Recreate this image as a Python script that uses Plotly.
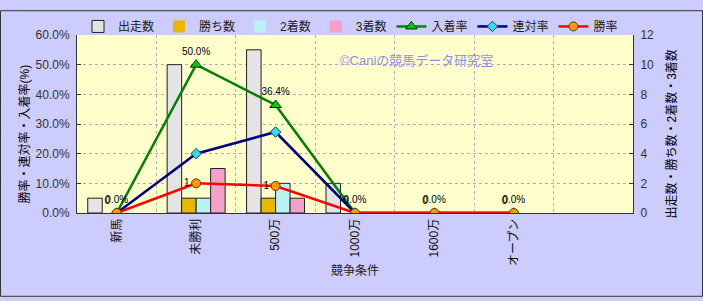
import plotly.graph_objects as go

categories = ["新馬", "未勝利", "500万", "1000万", "1600万", "オープン"]
runs = [1, 10, 11, 2, 0, 0]
wins = [0, 1, 1, 0, 0, 0]
seconds = [0, 1, 2, 0, 0, 0]
thirds = [0, 3, 1, 0, 0, 0]
place_rate = [0.0, 0.5, 0.364, 0.0, 0.0, 0.0]
rentai_rate = [0.0, 0.2, 0.273, 0.0, 0.0, 0.0]
win_rate = [0.0, 0.1, 0.091, 0.0, 0.0, 0.0]
n_slots = 7  # one empty slot at right

xs = list(range(len(categories)))
FONT = "Liberation Sans, Noto Sans CJK JP, sans-serif"
W, H = 703, 301
L, R, T, B = 77, 633, 26, 213
PW, PH = R - L, B - T

def px(x):
    return (x - L) / PW

def py(y):
    return (B - y) / PH

fig = go.Figure()

bar_specs = [
    ("出走数", runs, "#e4e4e4"),
    ("勝ち数", wins, "#e8b800"),
    ("2着数", seconds, "#b8f4f4"),
    ("3着数", thirds, "#f4a0c8"),
]
for name, vals, col in bar_specs:
    fig.add_trace(go.Bar(
        x=xs, y=vals, name=name, yaxis="y",
        marker=dict(color=col, line=dict(color="#202020",
                                         width=[1 if v else 0 for v in vals])),
    ))

fig.add_trace(go.Scatter(
    x=xs, y=place_rate, name="入着率", yaxis="y2", mode="lines+markers+text",
    line=dict(color="#008000", width=2.5),
    marker=dict(symbol="triangle-up", size=10, color="#00cc00", line=dict(color="#003300", width=1)),
    text=[f"{v*100:.1f}%" for v in place_rate], textposition="top center",
    textfont=dict(family=FONT, size=10, color="#000000"),
))
fig.add_trace(go.Scatter(
    x=xs, y=rentai_rate, name="連対率", yaxis="y2", mode="lines+markers",
    line=dict(color="#000080", width=2.5),
    marker=dict(symbol="diamond", size=8, color="#33ddee", line=dict(color="#004444", width=1)),
))
fig.add_trace(go.Scatter(
    x=xs, y=win_rate, name="勝率", yaxis="y2", mode="lines+markers+text",
    line=dict(color="#ff0000", width=2.5),
    marker=dict(symbol="circle", size=9, color="#ff9900", line=dict(color="#663300", width=1)),
    text=[str(w) for w in wins],
    textposition=["top left" if w == 0 else "middle left" for w in wins],
    textfont=dict(family=FONT, size=10, color="#000000"),
))

fig.update_layout(
    width=W, height=H,
    margin=dict(l=L, r=W - R, t=T, b=H - B, pad=0),
    paper_bgcolor="#ccccff",
    plot_bgcolor="#ffffcc",
    font=dict(family=FONT, size=12, color="#333333"),
    barmode="group", bargap=0.27, bargroupgap=0,
    showlegend=True,
    legend=dict(orientation="h", x=px(78), y=py(17), xanchor="left", yanchor="middle",
                bgcolor="rgba(0,0,0,0)", font=dict(family=FONT, size=12, color="#222222"),
                traceorder="normal", itemwidth=30),
    xaxis=dict(
        range=[-0.5, n_slots - 0.5], tickmode="array", tickvals=xs, ticktext=categories,
        tickangle=-90, ticks="", showgrid=False, zeroline=False,
        showline=True, linecolor="#333333", linewidth=1,
        tickfont=dict(family=FONT, size=12, color="#111111"),
        minor=dict(tickvals=[i + 0.5 for i in range(n_slots - 1)], showgrid=True,
                   gridcolor="#b0b0b0", griddash="dot", gridwidth=1, ticks=""),
    ),
    yaxis=dict(
        side="right", range=[0, 12], dtick=2, showgrid=False, zeroline=False,
        showline=True, linecolor="#333333", linewidth=1, ticks="inside", ticklen=4,
        tickcolor="#333333", tickfont=dict(family=FONT, size=12, color="#333333"),
        ticklabelstandoff=4,
    ),
    yaxis2=dict(
        side="left", overlaying="y", range=[0, 0.6], dtick=0.1, tickformat=".1%",
        showgrid=True, gridcolor="#b0b0b0", griddash="dot", gridwidth=1, zeroline=False,
        showline=True, linecolor="#333333", linewidth=1, ticks="inside", ticklen=4,
        tickcolor="#333333", tickfont=dict(family=FONT, size=12, color="#333333"),
        ticklabelstandoff=4,
    ),
)

fig.add_annotation(text="©Caniの競馬データ研究室", xref="paper", yref="paper",
                   x=px(495), y=py(43), showarrow=False,
                   font=dict(family=FONT, size=13, color="#8f8fe8"))
fig.add_annotation(text="勝率・連対率・入着率(%)", xref="paper", yref="paper",
                   x=px(15), y=py(130), showarrow=False, textangle=-90,
                   font=dict(family=FONT, size=12, color="#000000"))
fig.add_annotation(text="出走数・勝ち数・2着数・3着数", xref="paper", yref="paper",
                   x=px(681), y=py(130), showarrow=False, textangle=-90,
                   font=dict(family=FONT, size=12, color="#000000"))
fig.add_annotation(text="競争条件", xref="paper", yref="paper",
                   x=px(355), y=py(283), showarrow=False,
                   font=dict(family=FONT, size=12, color="#222222"))
fig.add_shape(type="rect", xref="paper", yref="paper",
              x0=px(0.5), x1=px(702.5), y0=py(300.5), y1=py(0.5),
              line=dict(color="#333333", width=1), layer="above")

fig.write_html("out.html")
